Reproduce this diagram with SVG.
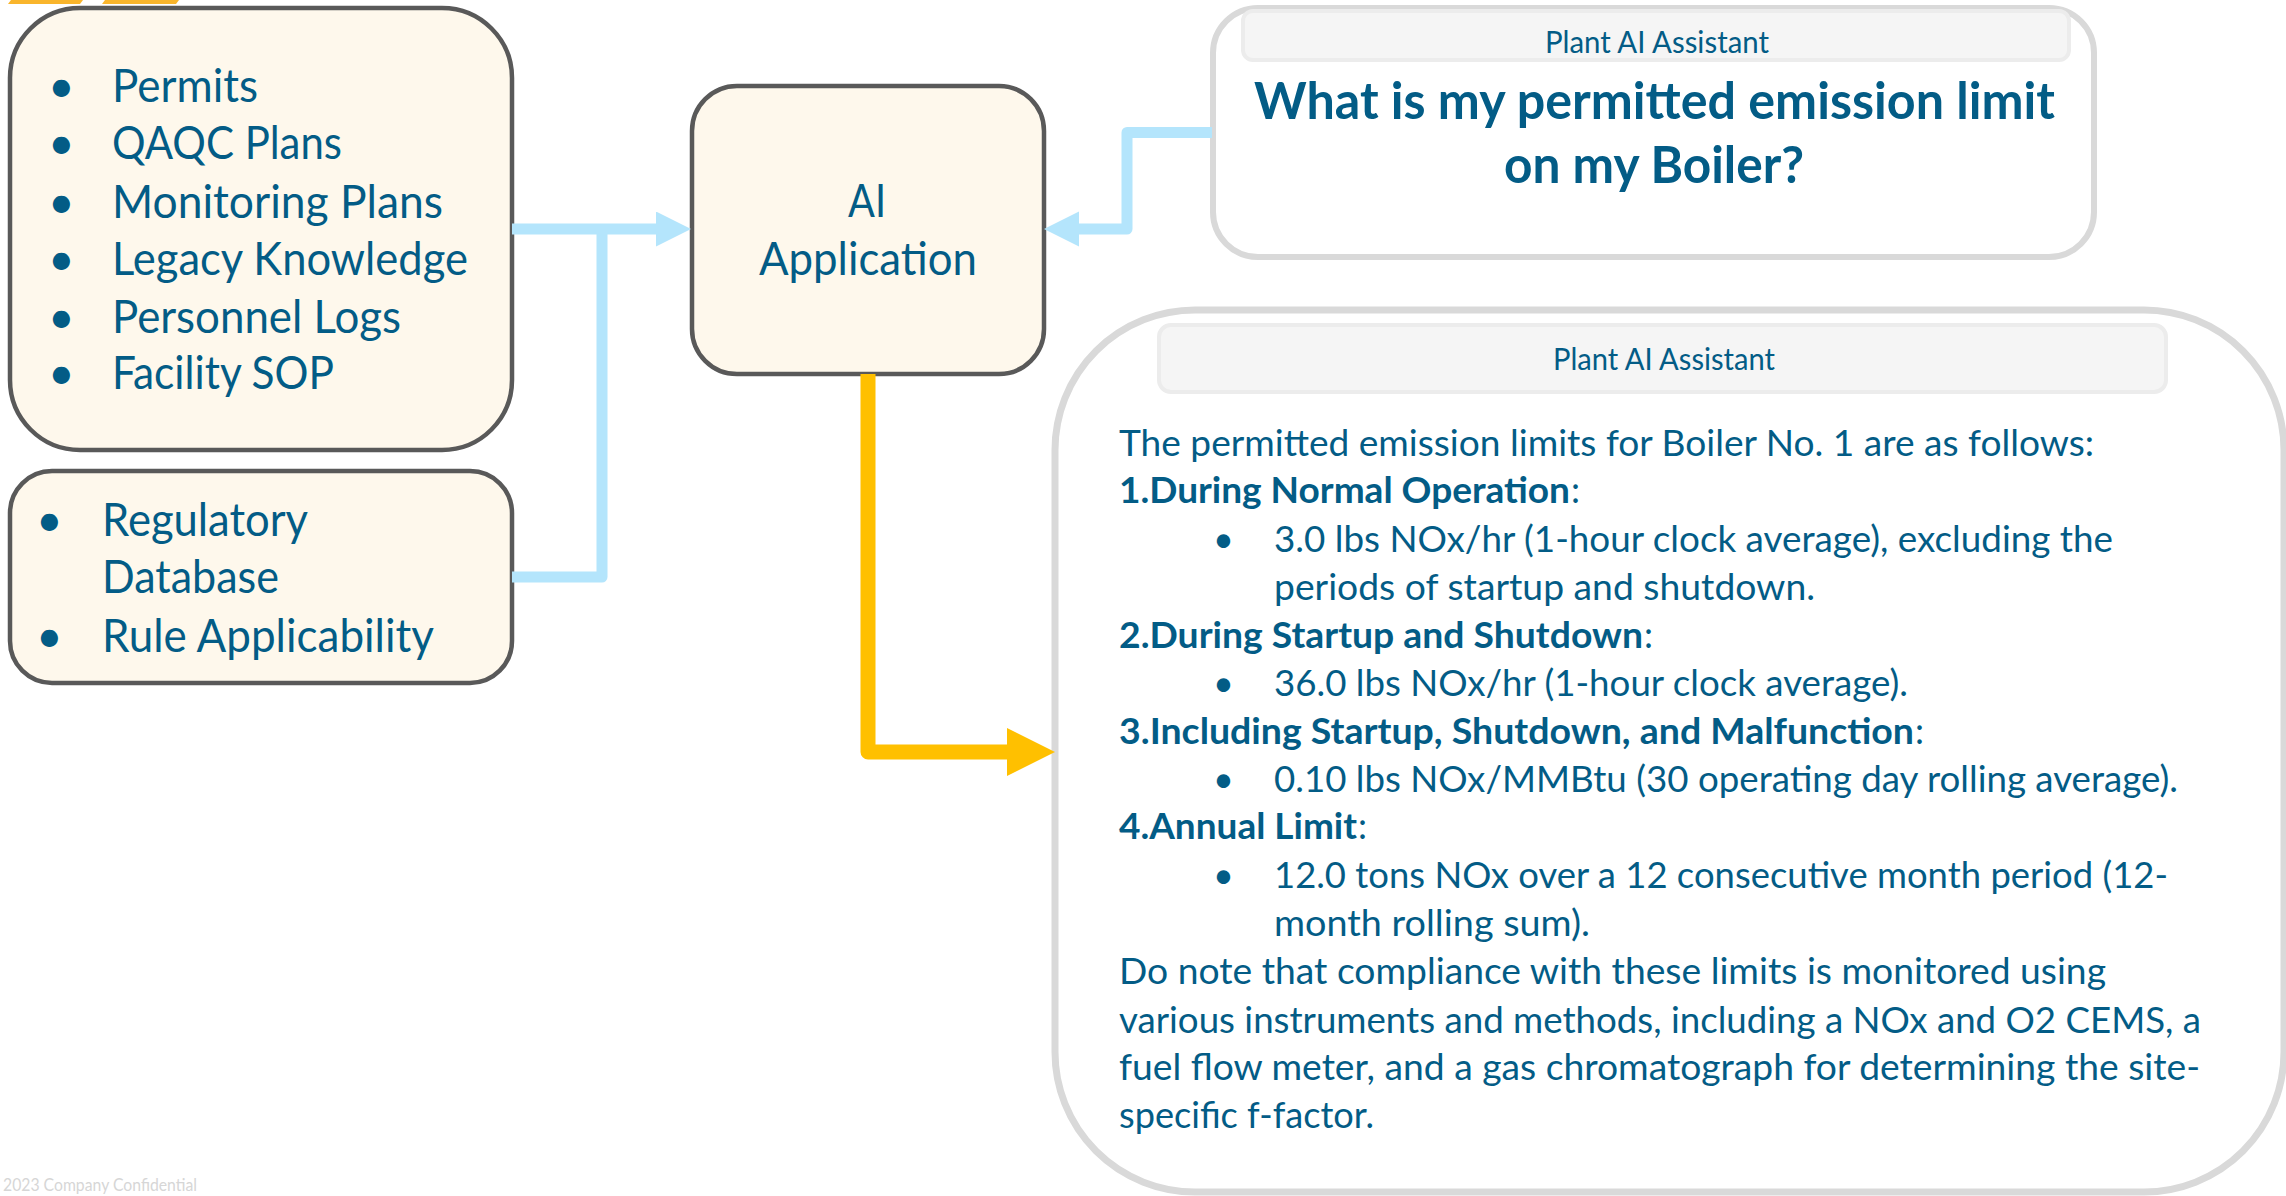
<svg xmlns="http://www.w3.org/2000/svg" width="2286" height="1196" viewBox="0 0 2286 1196">
<style>
.t{font-family:Lato,"Open Sans",sans-serif;fill:#035C86}
.bx{font-size:46px}
.an{font-size:36px}
.hd{font-size:30px}
.b{font-weight:700}
.node{fill:#FEF8EC;stroke:#595959;stroke-width:4.5}
.panel{fill:#FFFFFF;stroke:#D9D9D9}
.bar{fill:#F5F5F5;stroke:#ECECEC;stroke-width:4}
.blue{fill:none;stroke:#B4E5FC;stroke-width:11;stroke-linejoin:round}
.orange{fill:none;stroke:#FFC000;stroke-width:15;stroke-linejoin:round}
</style>
<defs>
<marker id="ab" markerUnits="userSpaceOnUse" markerWidth="36" markerHeight="36" refX="2" refY="17.5" orient="auto"><path d="M0,0 L35,17.5 L0,35 z" fill="#B4E5FC"/></marker>
<marker id="ao" markerUnits="userSpaceOnUse" markerWidth="49" markerHeight="49" refX="2" refY="24" orient="auto"><path d="M0,0 L48,24 L0,48 z" fill="#FFC000"/></marker>
</defs>
<rect width="2286" height="1196" fill="#FFFFFF"/>
<g id="logo">
<polygon points="11,0 83,0 80,4 8,4" fill="#F9B52C"/>
<polygon points="105,0 179,0 176,4 102,4" fill="#F9B52C"/>
</g>
<g id="sources">
<rect class="node" x="10" y="8" width="502" height="442" rx="70"/>
<g class="t bx">
<text x="48" y="102">•</text><text x="112" y="102" textLength="146" lengthAdjust="spacingAndGlyphs">Permits</text>
<text x="48" y="159">•</text><text x="112" y="159" textLength="230" lengthAdjust="spacingAndGlyphs">QAQC Plans</text>
<text x="48" y="218">•</text><text x="112" y="218" textLength="331" lengthAdjust="spacingAndGlyphs">Monitoring Plans</text>
<text x="48" y="275">•</text><text x="112" y="275" textLength="356" lengthAdjust="spacingAndGlyphs">Legacy Knowledge</text>
<text x="48" y="333">•</text><text x="112" y="333" textLength="289" lengthAdjust="spacingAndGlyphs">Personnel Logs</text>
<text x="48" y="389">•</text><text x="112" y="389" textLength="222" lengthAdjust="spacingAndGlyphs">Facility SOP</text>
</g>
</g>
<g id="regulatory">
<rect class="node" x="10" y="471" width="502" height="212" rx="42"/>
<g class="t bx">
<text x="36" y="536">•</text><text x="102" y="536" textLength="206" lengthAdjust="spacingAndGlyphs">Regulatory</text>
<text x="102" y="593" textLength="177" lengthAdjust="spacingAndGlyphs">Database</text>
<text x="36" y="652">•</text><text x="102" y="652" textLength="332" lengthAdjust="spacingAndGlyphs">Rule Applicability</text>
</g>
</g>
<g id="ai-application">
<rect class="node" x="692" y="86" width="352" height="288" rx="45"/>
<g class="t bx">
<text x="848" y="217" textLength="38" lengthAdjust="spacingAndGlyphs">AI</text>
<text x="759" y="275" textLength="218" lengthAdjust="spacingAndGlyphs">Application</text>
</g>
</g>
<g id="question">
<rect class="panel" x="1213" y="8" width="881" height="249" rx="45" stroke-width="6"/>
<rect class="bar" x="1243" y="11" width="826" height="49" rx="10"/>
<text class="t hd" x="1545" y="53" textLength="224" lengthAdjust="spacingAndGlyphs">Plant AI Assistant</text>
<text class="t b" font-size="52" x="1254" y="119" textLength="801" lengthAdjust="spacingAndGlyphs">What is my permitted emission limit</text>
<text class="t b" font-size="52" x="1504" y="183" textLength="300" lengthAdjust="spacingAndGlyphs">on my Boiler?</text>
</g>
<g id="answer">
<rect class="panel" x="1055" y="310" width="1229" height="882" rx="140" stroke-width="7"/>
<rect class="bar" x="1159" y="325" width="1007" height="67" rx="12"/>
<text class="t hd" x="1553" y="370" textLength="222" lengthAdjust="spacingAndGlyphs">Plant AI Assistant</text>
<g class="t an">
<text x="1119" y="456" textLength="975" lengthAdjust="spacingAndGlyphs">The permitted emission limits for Boiler No. 1 are as follows:</text>
<text class="b" x="1119" y="503" textLength="451" lengthAdjust="spacingAndGlyphs">1.During Normal Operation</text><text x="1571" y="503">:</text>
<text x="1213" y="552">•</text><text x="1274" y="552" textLength="839" lengthAdjust="spacingAndGlyphs">3.0 lbs NOx/hr (1-hour clock average), excluding the</text>
<text x="1274" y="600" textLength="541" lengthAdjust="spacingAndGlyphs">periods of startup and shutdown.</text>
<text class="b" x="1119" y="648" textLength="524" lengthAdjust="spacingAndGlyphs">2.During Startup and Shutdown</text><text x="1644" y="648">:</text>
<text x="1213" y="696">•</text><text x="1274" y="696" textLength="634" lengthAdjust="spacingAndGlyphs">36.0 lbs NOx/hr (1-hour clock average).</text>
<text class="b" x="1119" y="744" textLength="795" lengthAdjust="spacingAndGlyphs">3.Including Startup, Shutdown, and Malfunction</text><text x="1915" y="744">:</text>
<text x="1213" y="792">•</text><text x="1274" y="792" textLength="904" lengthAdjust="spacingAndGlyphs">0.10 lbs NOx/MMBtu (30 operating day rolling average).</text>
<text class="b" x="1119" y="839" textLength="238" lengthAdjust="spacingAndGlyphs">4.Annual Limit</text><text x="1358" y="839">:</text>
<text x="1213" y="888">•</text><text x="1274" y="888" textLength="894" lengthAdjust="spacingAndGlyphs">12.0 tons NOx over a 12 consecutive month period (12-</text>
<text x="1274" y="936" textLength="316" lengthAdjust="spacingAndGlyphs">month rolling sum).</text>
<text x="1119" y="984" textLength="987" lengthAdjust="spacingAndGlyphs">Do note that compliance with these limits is monitored using</text>
<text x="1119" y="1033" textLength="1082" lengthAdjust="spacingAndGlyphs">various instruments and methods, including a NOx and O2 CEMS, a</text>
<text x="1119" y="1080" textLength="1081" lengthAdjust="spacingAndGlyphs">fuel flow meter, and a gas chromatograph for determining the site-</text>
<text x="1119" y="1128" textLength="255" lengthAdjust="spacingAndGlyphs">specific f-factor.</text>
</g>
</g>
<g id="connectors">
<path class="blue" d="M512,229 H658" marker-end="url(#ab)"/>
<path class="blue" d="M512,577 H602 V229"/>
<path class="blue" d="M1212,132.5 H1127 V229 H1077" marker-end="url(#ab)"/>
<path class="orange" d="M868,374 V752 H1009" marker-end="url(#ao)"/>
</g>
<text x="3" y="1191" font-family="Lato,'Open Sans',sans-serif" font-size="17" fill="#D6D6D6" textLength="194" lengthAdjust="spacingAndGlyphs">2023 Company Confidential</text>
</svg>
